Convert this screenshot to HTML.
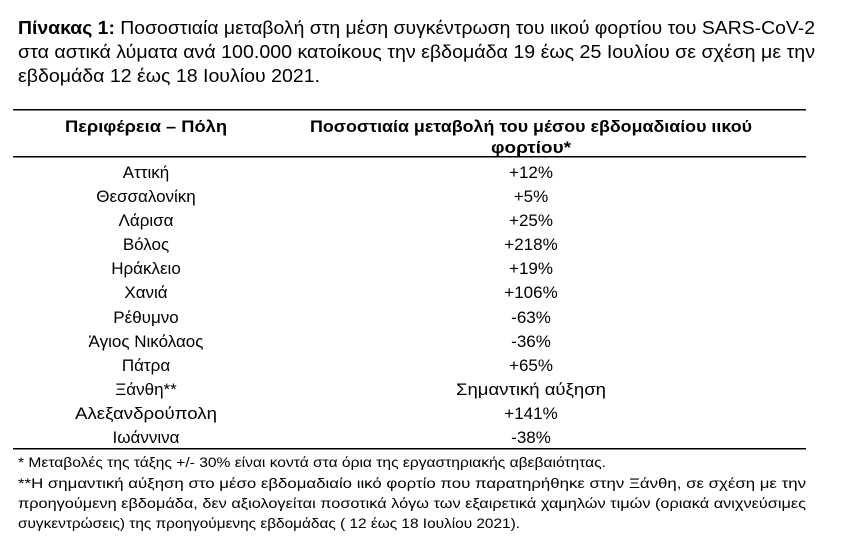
<!DOCTYPE html>
<html><head><meta charset="utf-8"><style>
html,body{margin:0;padding:0;background:#fff;}
svg{display:block;font-family:"Liberation Sans","DejaVu Sans",sans-serif;}
</style></head><body>
<svg width="858" height="548" viewBox="0 0 858 548" xmlns="http://www.w3.org/2000/svg">
<rect width="858" height="548" fill="#fff"/>
<g font-size="18" fill="#000">
<text x="18" y="34" textLength="797" lengthAdjust="spacingAndGlyphs"><tspan font-weight="bold">Πίνακας 1:</tspan> Ποσοστιαία μεταβολή στη μέση συγκέντρωση του ιικού φορτίου του SARS-CoV-2</text>
<text x="18" y="58" textLength="797" lengthAdjust="spacingAndGlyphs">στα αστικά λύματα ανά 100.000 κατοίκους την εβδομάδα 19 έως 25 Ιουλίου σε σχέση με την</text>
<text x="18" y="82" textLength="302" lengthAdjust="spacingAndGlyphs">εβδομάδα 12 έως 18 Ιουλίου 2021.</text>
</g>
<rect x="13" y="109" width="793" height="1.5" fill="#000"/>
<rect x="13" y="156" width="793" height="1.5" fill="#000"/>
<rect x="13" y="448" width="793" height="1.5" fill="#000"/>
<g font-size="17" font-weight="bold" text-anchor="middle">
<text x="146" y="132" textLength="162" lengthAdjust="spacingAndGlyphs">Περιφέρεια – Πόλη</text>
<text x="531" y="132" textLength="442" lengthAdjust="spacingAndGlyphs">Ποσοστιαία μεταβολή του μέσου εβδομαδιαίου ιικού</text>
<text x="531" y="153" textLength="80" lengthAdjust="spacingAndGlyphs">φορτίου*</text>
</g>
<g font-size="17" text-anchor="middle">
<text x="146" y="178">Αττική</text><text x="531" y="178">+12%</text>
<text x="146" y="202">Θεσσαλονίκη</text><text x="531" y="202">+5%</text>
<text x="146" y="226">Λάρισα</text><text x="531" y="226">+25%</text>
<text x="146" y="250">Βόλος</text><text x="531" y="250">+218%</text>
<text x="146" y="274">Ηράκλειο</text><text x="531" y="274">+19%</text>
<text x="146" y="298">Χανιά</text><text x="531" y="298">+106%</text>
<text x="146" y="323">Ρέθυμνο</text><text x="531" y="323">-63%</text>
<text x="146" y="347">Άγιος Νικόλαος</text><text x="531" y="347">-36%</text>
<text x="146" y="371">Πάτρα</text><text x="531" y="371">+65%</text>
<text x="146" y="395">Ξάνθη**</text><text x="531" y="395" textLength="150" lengthAdjust="spacingAndGlyphs">Σημαντική αύξηση</text>
<text x="146" y="419" textLength="142" lengthAdjust="spacingAndGlyphs">Αλεξανδρούπολη</text><text x="531" y="419">+141%</text>
<text x="146" y="443">Ιωάννινα</text><text x="531" y="443">-38%</text>
</g>
<g font-size="14">
<text x="18" y="467" textLength="588" lengthAdjust="spacingAndGlyphs">* Μεταβολές της τάξης +/- 30% είναι κοντά στα όρια της εργαστηριακής αβεβαιότητας.</text>
<text x="18" y="488" textLength="788" lengthAdjust="spacingAndGlyphs">**Η σημαντική  αύξηση στο μέσο εβδομαδιαίο ιικό φορτίο που παρατηρήθηκε στην Ξάνθη, σε σχέση με την</text>
<text x="18" y="508" textLength="788" lengthAdjust="spacingAndGlyphs">προηγούμενη εβδομάδα, δεν αξιολογείται ποσοτικά λόγω των εξαιρετικά χαμηλών τιμών (οριακά ανιχνεύσιμες</text>
<text x="18" y="528" textLength="502" lengthAdjust="spacingAndGlyphs">συγκεντρώσεις)  της προηγούμενης εβδομάδας ( 12 έως 18 Ιουλίου 2021).</text>
</g>
</svg>
</body></html>
